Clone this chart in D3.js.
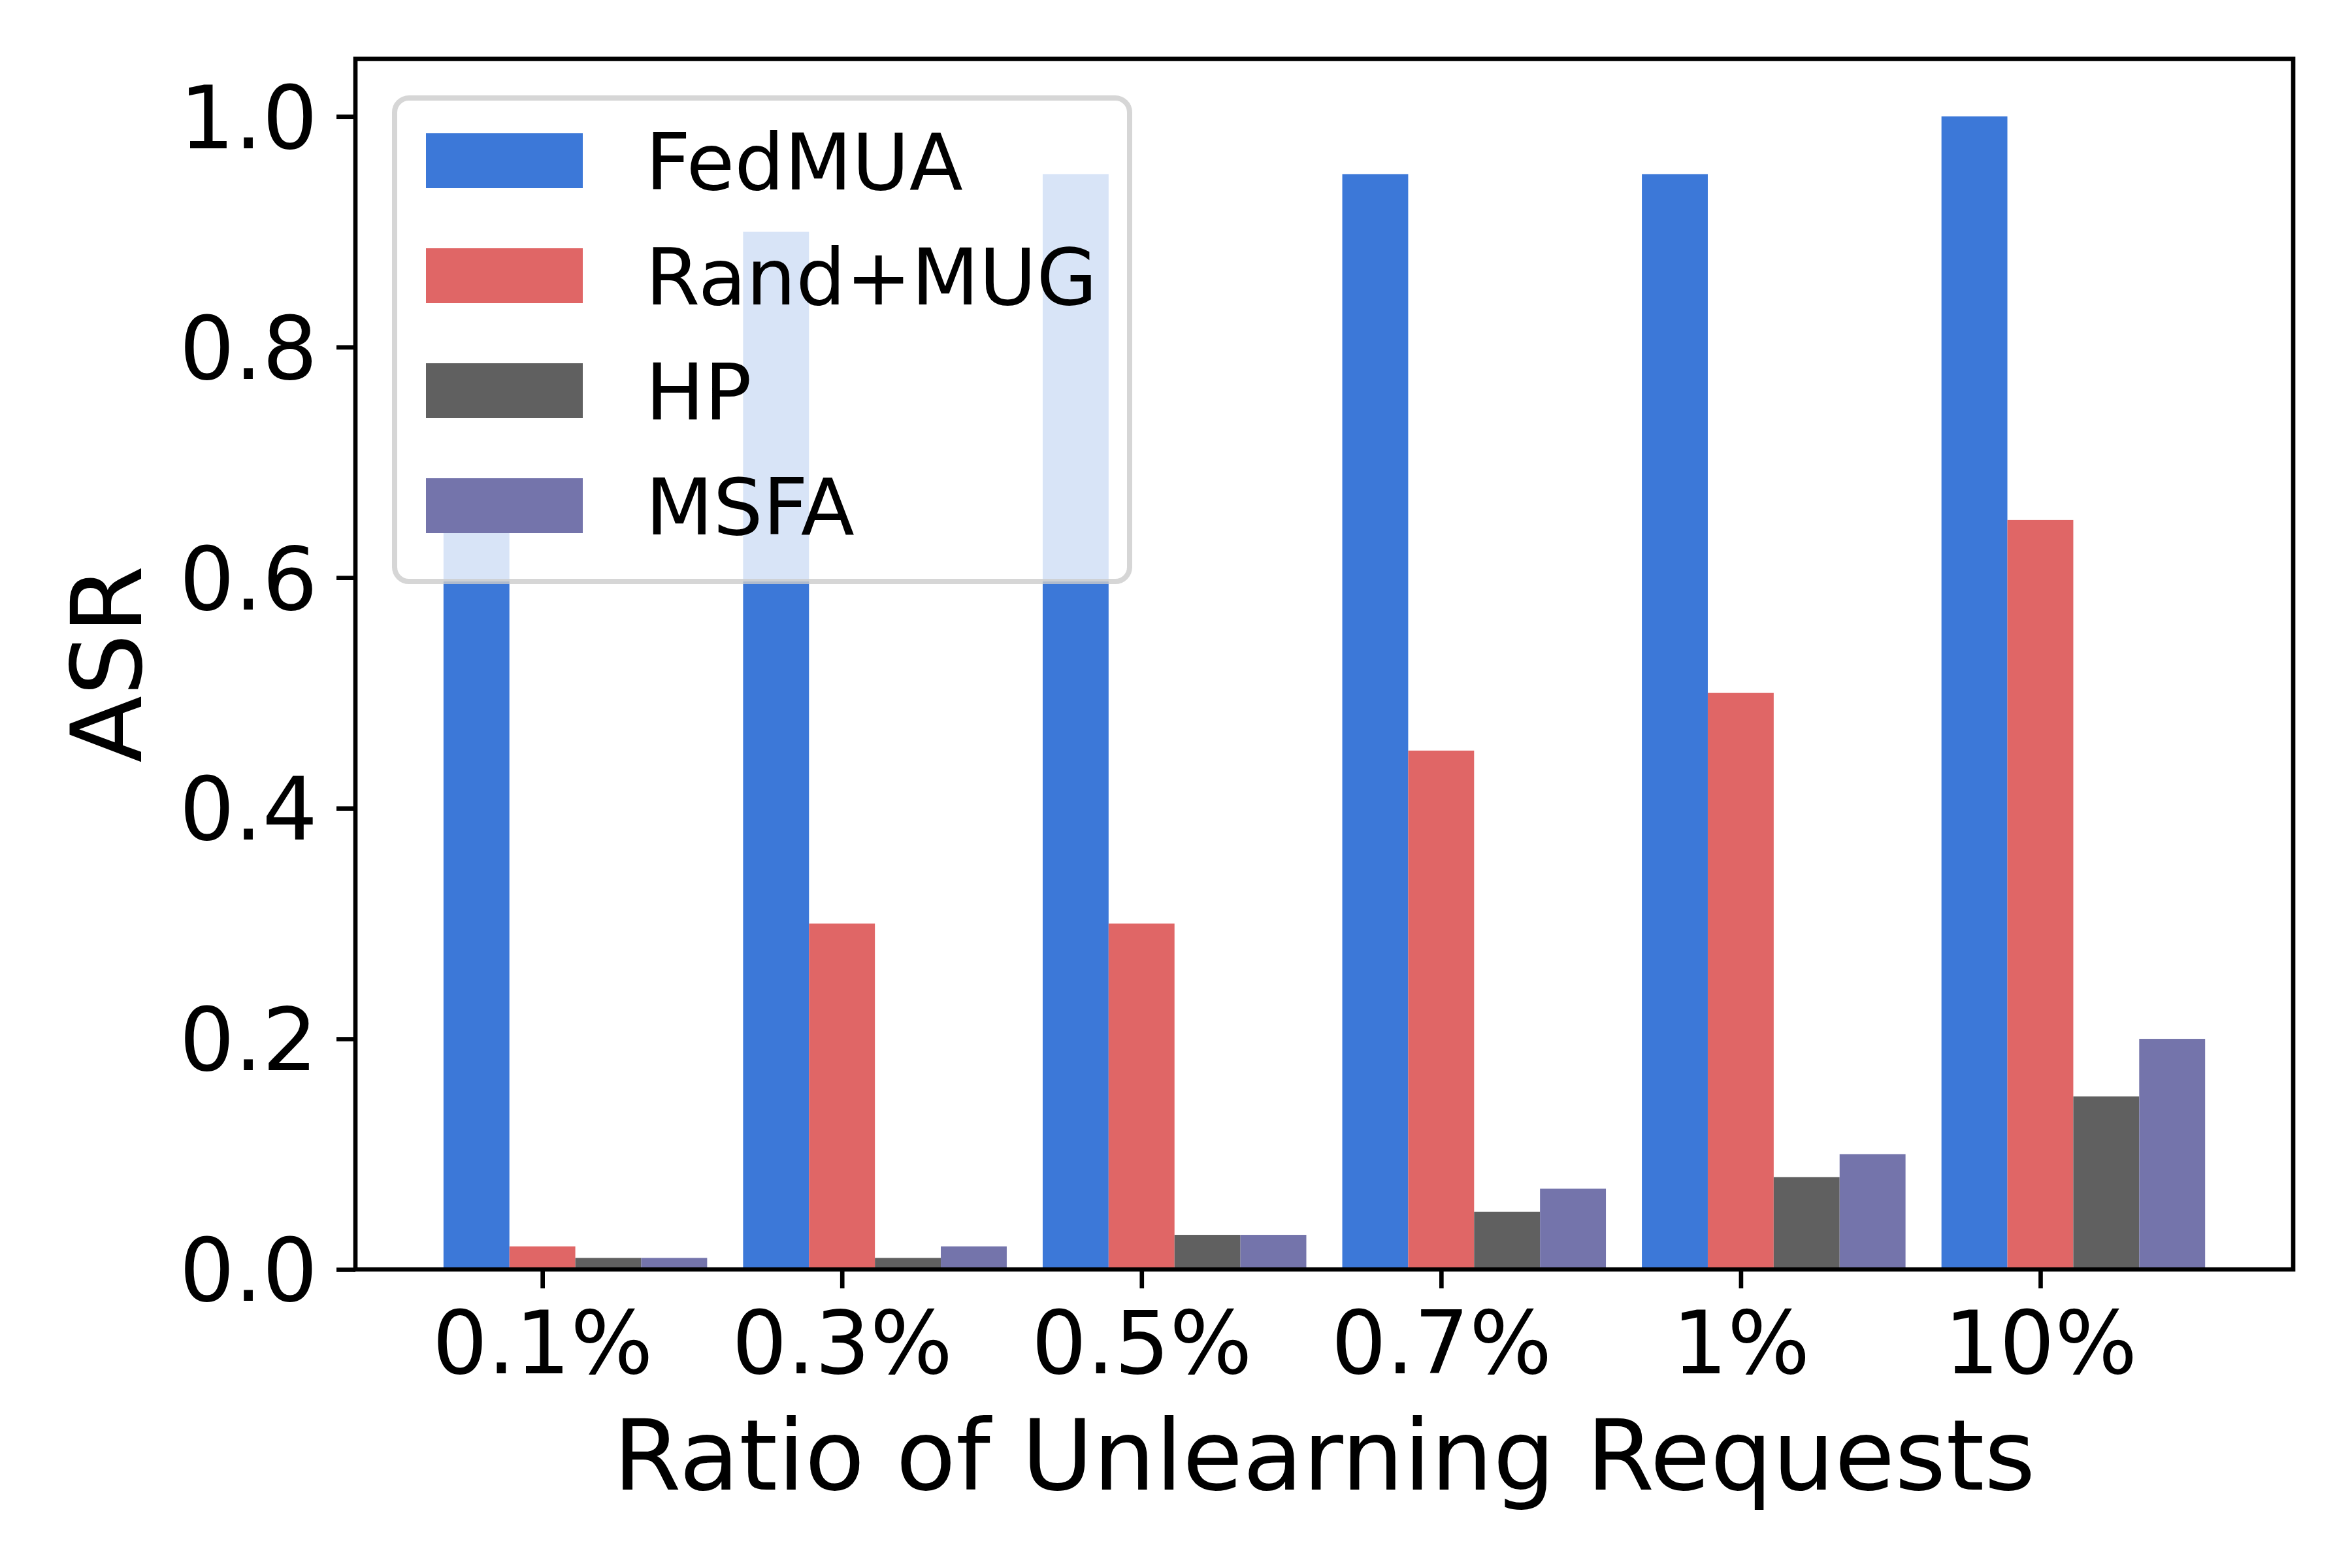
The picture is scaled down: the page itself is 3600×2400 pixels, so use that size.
<!DOCTYPE html>
<html lang="en">
<head>
<meta charset="utf-8">
<title>ASR vs ratio of unlearning requests</title>
<style>
  body { margin: 0; background: #fff; }
  svg text { font-family: "DejaVu Sans", sans-serif; fill: #000; }
  .axis path { display: none; }
  .axis line { stroke: #000; stroke-width: 6.67; }
</style>
</head>
<body>
<div class="graph"></div>
<script src="https://d3js.org/d3.v7.min.js"></script>
<script>
// data
var categories = ["0.1%", "0.3%", "0.5%", "0.7%", "1%", "10%"];
var seriesNames = ["FedMUA", "Rand+MUG", "HP", "MSFA"];
var fedmua  = [0.65, 0.90, 0.95, 0.95, 0.95, 1.00];
var randmug = [0.02, 0.30, 0.30, 0.45, 0.50, 0.65];
var hp      = [0.01, 0.01, 0.03, 0.05, 0.08, 0.15];
var msfa    = [0.01, 0.02, 0.03, 0.07, 0.10, 0.20];
var yTicks  = [0.0, 0.2, 0.4, 0.6, 0.8, 1.0];

var colors = ["#3c78d8", "#e06666", "#606060", "#7474ab"];
var series = [fedmua, randmug, hp, msfa];

var W = 3600, H = 2400;
var margin = {top: 90, right: 90, bottom: 457, left: 544};
var barW = 0.22;

// matplotlib style auto limits: data extent plus 5% each side
var xMin = -1.5 * barW, xMax = (categories.length - 1) + 2.5 * barW;
var pad = (xMax - xMin) * 0.05;

var x = d3.scaleLinear()
  .domain([xMin - pad, xMax + pad])
  .range([margin.left, W - margin.right]);

var y = d3.scaleLinear()
  .domain([0, 1.05])
  .range([H - margin.bottom, margin.top]);

var svg = d3.select(".graph").append("svg")
  .attr("width", W)
  .attr("height", H);

// bars: series k sits at i + (k-1)*w, so the tick lands on the 2nd bar
series.forEach(function(vals, k) {
  svg.append("g")
    .selectAll("rect")
    .data(vals)
    .join("rect")
      .attr("x", function(d, i) { return x(i + (k - 1) * barW - barW / 2); })
      .attr("width", function() { return x(barW) - x(0); })
      .attr("y", function(d) { return y(d); })
      .attr("height", function(d) { return y(0) - y(d); })
      .attr("fill", colors[k]);
});

// axes
var yAxis = svg.append("g")
  .attr("class", "axis")
  .attr("transform", "translate(" + margin.left + ",0)")
  .call(d3.axisLeft(y).tickValues(yTicks).tickFormat(d3.format(".1f"))
    .tickSize(29).tickPadding(29));
yAxis.selectAll("text").style("font-size", "133px").attr("dy", "0.36em");

var xAxis = svg.append("g")
  .attr("class", "axis")
  .attr("transform", "translate(0," + (H - margin.bottom) + ")")
  .call(d3.axisBottom(x).tickValues(d3.range(categories.length))
    .tickFormat(function(d) { return categories[d]; })
    .tickSize(29).tickPadding(36));
xAxis.selectAll("text").style("font-size", "133px");

// frame
svg.append("rect")
  .attr("x", margin.left)
  .attr("y", margin.top)
  .attr("width", W - margin.right - margin.left)
  .attr("height", H - margin.bottom - margin.top)
  .attr("fill", "none")
  .attr("stroke", "#000")
  .attr("stroke-width", 6.67);

// axis labels
svg.append("text")
  .attr("x", (margin.left + W - margin.right) / 2)
  .attr("y", 2280)
  .attr("text-anchor", "middle")
  .style("font-size", "150px")
  .text("Ratio of Unlearning Requests");

svg.append("text")
  .attr("transform", "translate(216," + ((margin.top + H - margin.bottom) / 2) + ") rotate(-90)")
  .attr("text-anchor", "middle")
  .style("font-size", "150px")
  .text("ASR");

// legend (upper left)
var fs = 120;
var legend = svg.append("g")
  .attr("transform", "translate(" + (margin.left + 60) + "," + (margin.top + 60) + ")");

legend.append("rect")
  .attr("width", 1125)
  .attr("height", 740)
  .attr("rx", 22)
  .attr("fill", "#fff")
  .attr("fill-opacity", 0.8)
  .attr("stroke", "#cccccc")
  .attr("stroke-opacity", 0.8)
  .attr("stroke-width", 8);

var rows = legend.selectAll("g.row")
  .data(seriesNames)
  .join("g")
    .attr("class", "row")
    .attr("transform", function(d, i) { return "translate(48," + (96 + i * 176) + ")"; });

rows.append("rect")
  .attr("y", -0.35 * fs)
  .attr("width", 2 * fs)
  .attr("height", 0.7 * fs)
  .attr("fill", function(d, i) { return colors[i]; });

rows.append("text")
  .attr("x", 2.8 * fs)
  .attr("y", 44)
  .style("font-size", fs + "px")
  .text(function(d) { return d; });
</script>
</body>
</html>
